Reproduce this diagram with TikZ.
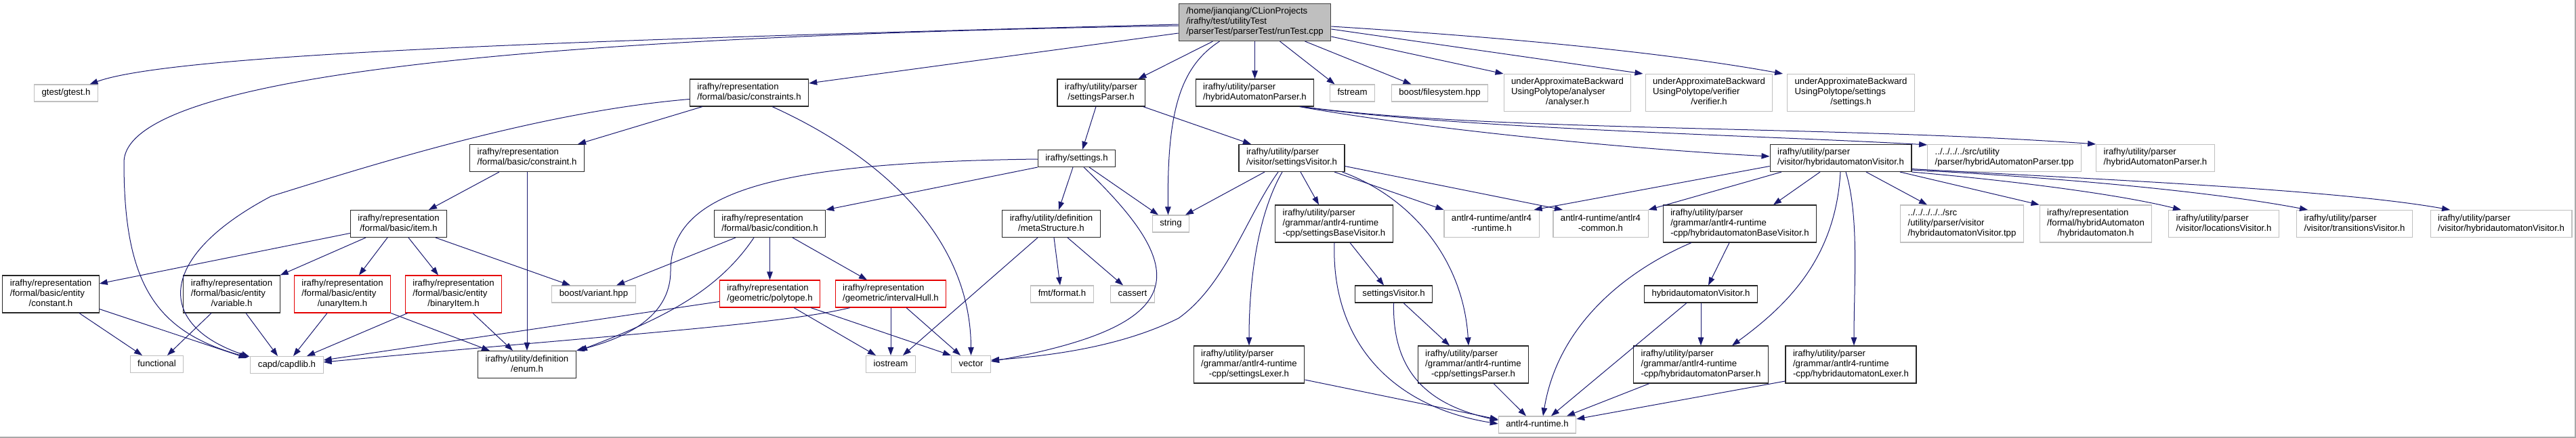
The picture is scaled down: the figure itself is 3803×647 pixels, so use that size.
\documentclass[tikz,border=0pt]{standalone}
\usepackage{fontspec}
\setmainfont{Liberation Sans}
\usetikzlibrary{arrows.meta}
\definecolor{edgeblue}{HTML}{191970}
\definecolor{sysgray}{HTML}{BFBFBF}
\definecolor{framegray}{HTML}{A8A8A8}
\newcommand{\oneline}[1]{\begin{tabular}{@{}c@{}}#1\end{tabular}}
\newcommand{\twoline}[2]{\begin{tabular}{@{}l@{}}#1\\\multicolumn{1}{@{}c@{}}{#2}\end{tabular}}
\newcommand{\threeline}[3]{\begin{tabular}{@{}l@{}}#1\\#2\\\multicolumn{1}{@{}c@{}}{#3}\end{tabular}}
\tikzset{
    file/.style={draw=black!85,line width=1.1pt,fill=white,inner xsep=11pt,inner ysep=5pt,
        font=\fontsize{13.2}{15}\selectfont},
    sysfile/.style={file,draw=sysgray},
    trunc/.style={file,draw=red!90!black},
    rootfile/.style={file,fill=sysgray,draw=black!75},
    dep/.style={draw=edgeblue,line width=1pt,-{Triangle[length=12pt,width=8.5pt]}},
}
\begin{document}
\begin{tikzpicture}[x=1pt,y=-1pt]
    \useasboundingbox (0,0) rectangle (3803,647);

    \node[rootfile] (runtest) at (1852.5,33) {\threeline{/home/jianqiang/CLionProjects}{/irafhy/test/utilityTest}{/parserTest/parserTest/runTest.cpp}};
    \node[sysfile] (gtest) at (97.5,137.5) {\oneline{gtest/gtest.h}};
    \node[file] (constraints) at (1106,137) {\twoline{irafhy/representation}{/formal/basic/constraints.h}};
    \node[file] (setparser) at (1625.5,137) {\twoline{irafhy/utility/parser}{/settingsParser.h}};
    \node[file] (haparser) at (1852.5,137) {\twoline{irafhy/utility/parser}{/hybridAutomatonParser.h}};
    \node[sysfile] (fstream) at (1996.5,137.5) {\oneline{fstream}};
    \node[sysfile] (boostfs) at (2125.5,137.5) {\oneline{boost/filesystem.hpp}};
    \node[sysfile] (analyser) at (2314,137) {\threeline{underApproximateBackward}{UsingPolytope/analyser}{/analyser.h}};
    \node[sysfile] (verifier) at (2523,137) {\threeline{underApproximateBackward}{UsingPolytope/verifier}{/verifier.h}};
    \node[sysfile] (uabsettings) at (2732.5,137) {\threeline{underApproximateBackward}{UsingPolytope/settings}{/settings.h}};

    \node[file] (constraint) at (778,233.5) {\twoline{irafhy/representation}{/formal/basic/constraint.h}};
    \node[file] (settings) at (1589.5,234) {\oneline{irafhy/settings.h}};
    \node[file] (setvisitor) at (1907,233.5) {\twoline{irafhy/utility/parser}{/visitor/settingsVisitor.h}};
    \node[file] (havisitor) at (2717.5,233.5) {\twoline{irafhy/utility/parser}{/visitor/hybridautomatonVisitor.h}};
    \node[sysfile] (hatpp) at (2959,233.5) {\twoline{../../../../src/utility}{/parser/hybridAutomatonParser.tpp}};
    \node[sysfile] (haparsergray) at (3182,233.5) {\twoline{irafhy/utility/parser}{/hybridAutomatonParser.h}};

    \node[file] (item) at (588.5,330.5) {\twoline{irafhy/representation}{/formal/basic/item.h}};
    \node[file] (condition) at (1136.5,330.5) {\twoline{irafhy/representation}{/formal/basic/condition.h}};
    \node[file] (meta) at (1552,330.5) {\twoline{irafhy/utility/definition}{/metaStructure.h}};
    \node[sysfile] (string) at (1728.5,330.5) {\oneline{string}};
    \node[file] (setbase) at (1969.5,330.5) {\threeline{irafhy/utility/parser}{/grammar/antlr4-runtime}{-cpp/settingsBaseVisitor.h}};
    \node[sysfile] (antlrrt) at (2202,330.5) {\twoline{antlr4-runtime/antlr4}{-runtime.h}};
    \node[sysfile] (antlrcommon) at (2363,330.5) {\twoline{antlr4-runtime/antlr4}{-common.h}};
    \node[file] (habase) at (2568.5,330.5) {\threeline{irafhy/utility/parser}{/grammar/antlr4-runtime}{-cpp/hybridautomatonBaseVisitor.h}};
    \node[sysfile] (havistpp) at (2896.5,330.5) {\threeline{../../../../../src}{/utility/parser/visitor}{/hybridautomatonVisitor.tpp}};
    \node[sysfile] (hauto) at (3094,330.5) {\threeline{irafhy/representation}{/formal/hybridAutomaton}{/hybridautomaton.h}};
    \node[sysfile] (locvis) at (3283,330.5) {\twoline{irafhy/utility/parser}{/visitor/locationsVisitor.h}};
    \node[sysfile] (transvis) at (3476,330.5) {\twoline{irafhy/utility/parser}{/visitor/transitionsVisitor.h}};
    \node[sysfile] (havisgray) at (3692.5,330.5) {\twoline{irafhy/utility/parser}{/visitor/hybridautomatonVisitor.h}};

    \node[file] (constant) at (75,434.5) {\threeline{irafhy/representation}{/formal/basic/entity}{/constant.h}};
    \node[file] (variable) at (342,434.5) {\threeline{irafhy/representation}{/formal/basic/entity}{/variable.h}};
    \node[trunc] (unary) at (505.5,434.5) {\threeline{irafhy/representation}{/formal/basic/entity}{/unaryItem.h}};
    \node[trunc] (binary) at (669.5,434.5) {\threeline{irafhy/representation}{/formal/basic/entity}{/binaryItem.h}};
    \node[sysfile] (variant) at (876.5,434.5) {\oneline{boost/variant.hpp}};
    \node[trunc] (polytope) at (1136.5,434) {\twoline{irafhy/representation}{/geometric/polytope.h}};
    \node[trunc] (hull) at (1315,434) {\twoline{irafhy/representation}{/geometric/intervalHull.h}};
    \node[sysfile] (fmt) at (1568,434.5) {\oneline{fmt/format.h}};
    \node[sysfile] (cassert) at (1672,434.5) {\oneline{cassert}};
    \node[file] (setvisplain) at (2057.5,434.5) {\oneline{settingsVisitor.h}};
    \node[file] (havisplain) at (2511,434.5) {\oneline{hybridautomatonVisitor.h}};

    \node[sysfile] (functional) at (231.5,538) {\oneline{functional}};
    \node[sysfile] (capd) at (423.5,539) {\oneline{capd/capdlib.h}};
    \node[file] (enum) at (778,538.5) {\twoline{irafhy/utility/definition}{/enum.h}};
    \node[sysfile] (iostream) at (1315,538) {\oneline{iostream}};
    \node[sysfile] (vector) at (1433.5,538) {\oneline{vector}};
    \node[file] (setlexer) at (1844,538.5) {\threeline{irafhy/utility/parser}{/grammar/antlr4-runtime}{-cpp/settingsLexer.h}};
    \node[file] (setparserg) at (2175,538.5) {\threeline{irafhy/utility/parser}{/grammar/antlr4-runtime}{-cpp/settingsParser.h}};
    \node[file] (haparserg) at (2511,538.5) {\threeline{irafhy/utility/parser}{/grammar/antlr4-runtime}{-cpp/hybridautomatonParser.h}};
    \node[file] (halexer) at (2732.5,538.5) {\threeline{irafhy/utility/parser}{/grammar/antlr4-runtime}{-cpp/hybridautomatonLexer.h}};
    \node[sysfile] (antlrh) at (2269.5,627.5) {\oneline{antlr4-runtime.h}};

    \draw[dep] ([yshift=-3pt]runtest.west) .. controls (900,58) and (260,78) .. ([xshift=35pt]gtest.north);
    \draw[dep] ([yshift=-5pt]runtest.west) .. controls (900,52) and (183,100) .. (183,240) .. controls (183,420) and (230,490) .. ([xshift=-3pt,yshift=-2pt]capd.north west);
    \draw[dep] ([yshift=-16pt]runtest.west) -- ([yshift=14pt]constraints.east);
    \draw[dep] ([xshift=-62pt]runtest.south) -- ([xshift=55pt]setparser.north);
    \draw[dep] ([xshift=-52pt]runtest.south) .. controls (1740,100) and (1723,170) .. ([xshift=-4pt]string.north);
    \draw[dep] (runtest) -- (haparser);
    \draw[dep] ([xshift=37pt]runtest.south) -- ([xshift=-26pt]fstream.north);
    \draw[dep] ([xshift=74pt]runtest.south) -- ([xshift=-42pt]boostfs.north);
    \draw[dep] ([yshift=-21pt]runtest.east) -- (analyser.north west);
    \draw[dep] ([yshift=-10pt]runtest.east) -- ([xshift=-3pt]verifier.north west);
    \draw[dep] ([yshift=-6pt]runtest.east) .. controls (2300,60) and (2500,85) .. ([xshift=-6pt]uabsettings.north west);

    \draw[dep] ([xshift=-69pt]constraints.south) -- ([xshift=75pt]constraint.north);
    \draw[dep] ([yshift=-9.5pt]constraints.west) .. controls (800,165) and (560,240) .. (400,290) .. controls (230,380) and (230,480) .. ([xshift=-1pt,yshift=-1pt]capd.north west);
    \draw[dep] ([xshift=34pt]constraints.south) .. controls (1300,230) and (1433,350) .. (vector.north);

    \draw[dep] ([xshift=-41pt]constraint.south) -- ([xshift=44.5pt]item.north);
    \draw[dep] (constraint) -- (enum);

    \draw[dep] ([yshift=-14pt]item.west) -- ([yshift=15.5pt]constant.east);
    \draw[dep] ([xshift=-48.5pt]item.south) -- (variable.north east);
    \draw[dep] ([xshift=-16.5pt]item.south) -- ([xshift=24.5pt]unary.north);
    \draw[dep] ([xshift=14.5pt]item.south) -- ([xshift=-22.5pt]binary.north);
    \draw[dep] ([xshift=54.5pt]item.south) -- ([xshift=-34.5pt]variant.north);

    \draw[dep] ([xshift=42pt]constant.south) -- ([xshift=-21.5pt]functional.north);
    \draw[dep] ([yshift=-22pt]constant.east) -- ([xshift=-5pt,yshift=-3pt]capd.north west);
    \draw[dep] ([xshift=-30pt]variable.south) -- ([xshift=15.5pt]functional.north);
    \draw[dep] ([xshift=21pt]variable.south) -- ([xshift=-13.5pt]capd.north);
    \draw[dep] ([xshift=-22.5pt]unary.south) -- ([xshift=9.5pt]capd.north);
    \draw[dep] (unary.south east) -- ([xshift=-55pt]enum.north);
    \draw[dep] ([xshift=4pt]binary.south west) -- ([xshift=29.5pt]capd.north);
    \draw[dep] ([xshift=28.5pt]binary.south) -- ([xshift=-21pt]enum.north);

    \draw[dep] (condition) -- (polytope);
    \draw[dep] ([xshift=33.5pt]condition.south) -- ([xshift=-35pt]hull.north);
    \draw[dep] ([xshift=-50.5pt]condition.south) -- ([xshift=33.5pt]variant.north);
    \draw[dep] ([xshift=-23.5pt]condition.south) .. controls (1060,430) and (980,470) .. ([xshift=4pt]enum.north east);

    \draw[dep] ([xshift=35.5pt]polytope.south) -- ([xshift=-22pt]iostream.north);
    \draw[dep] ([xshift=60.5pt]polytope.south) -- (vector.north west);
    \draw[dep] ([yshift=-11.5pt]polytope.west) -- ([yshift=7pt]capd.east);
    \draw[dep] (hull) -- (iostream);
    \draw[dep] ([xshift=23pt]hull.south) -- ([xshift=-15.5pt]vector.north);
    \draw[dep] ([xshift=-60pt]hull.south) .. controls (1150,480) and (900,495) .. ([yshift=4pt]capd.east);

    \draw[dep] ([xshift=-5.5pt]settings.south) -- ([xshift=11pt]meta.north);
    \draw[dep] ([xshift=18.5pt]settings.south) -- ([xshift=-18.5pt]string.north);
    \draw[dep] ([xshift=10.5pt]settings.south) .. controls (1760,400) and (1760,480) .. ([yshift=4pt]vector.east);
    \draw[dep] (settings.south west) -- (condition.north east);
    \draw[dep] ([yshift=-1pt]settings.west) .. controls (1150,240) and (990,280) .. (990,400) .. controls (990,470) and (920,500) .. (enum.north east);

    \draw[dep] ([xshift=-7.5pt]setparser.south) -- ([xshift=8.5pt]settings.north);
    \draw[dep] ([xshift=-3pt]setparser.south east) -- ([xshift=-60pt]setvisitor.north);

    \draw[dep] ([xshift=4pt]meta.south) -- ([xshift=-3pt]fmt.north);
    \draw[dep] ([xshift=24pt]meta.south) -- ([xshift=-14pt]cassert.north);
    \draw[dep] ([xshift=-20pt]meta.south) -- ([xshift=18pt]iostream.north);

    \draw[dep] ([xshift=-40pt]setvisitor.south) -- ([xshift=21.5pt]string.north);
    \draw[dep] ([xshift=-20pt]setvisitor.south) .. controls (1840,320) and (1810,420) .. (1740,470) .. controls (1660,510) and (1560,525) .. ([yshift=6pt]vector.east);
    \draw[dep] ([xshift=-14pt]setvisitor.south) .. controls (1855,320) and (1844,420) .. (setlexer.north);
    \draw[dep] ([xshift=13pt]setvisitor.south) -- ([xshift=-22.5pt]setbase.north);
    \draw[dep] ([xshift=63pt]setvisitor.south) -- (antlrrt.north west);
    \draw[dep] ([yshift=-12pt]setvisitor.east) -- ([xshift=-56pt]antlrcommon.north);
    \draw[dep] ([xshift=-4pt]setvisitor.south east) .. controls (2080,290) and (2160,380) .. ([xshift=-7pt]setparserg.north);

    \draw[dep] ([xshift=23.5pt]setbase.south) -- ([xshift=-14.5pt]setvisplain.north);
    \draw[dep] ([xshift=0.5pt]setbase.south) .. controls (1965,500) and (2050,600) .. ([yshift=1.5pt]antlrh.west);
    \draw[dep] (setvisplain.south) .. controls (2055,560) and (2120,600) .. ([yshift=6.5pt]antlrh.west);
    \draw[dep] ([xshift=14.5pt]setvisplain.south) -- ([xshift=-35pt]setparserg.north);
    \draw[dep] ([yshift=-22.5pt]setlexer.east) -- ([yshift=8pt]antlrh.west);
    \draw[dep] ([xshift=30pt]setparserg.south) -- ([xshift=-16.5pt]antlrh.north);

    \draw[dep] ([xshift=-22pt]haparser.south east) .. controls (2100,190) and (2400,220) .. ([yshift=2.5pt]havisitor.west);
    \draw[dep] ([xshift=-20pt]haparser.south east) .. controls (2150,190) and (2600,200) .. ([yshift=-1pt]hatpp.north west);
    \draw[dep] ([xshift=-18pt]haparser.south east) .. controls (2200,195) and (2700,185) .. (haparsergray.north west);

    \draw[dep] ([yshift=-12pt]havisitor.west) -- ([xshift=-8pt]antlrrt.north east);
    \draw[dep] ([xshift=-87.5pt]havisitor.south) -- (antlrcommon.north east);
    \draw[dep] ([xshift=-30.5pt]havisitor.south) -- ([xshift=49.5pt]habase.north);
    \draw[dep] ([xshift=-0.5pt]havisitor.south) .. controls (2710,380) and (2640,450) .. ([xshift=46pt]haparserg.north);
    \draw[dep] ([xshift=7.5pt]havisitor.south) .. controls (2745,320) and (2737,420) .. ([xshift=4.5pt]halexer.north);
    \draw[dep] ([xshift=37.5pt]havisitor.south) -- ([xshift=-51.5pt]havistpp.north);
    \draw[dep] ([xshift=87.5pt]havisitor.south) -- (hauto.north west);
    \draw[dep] (havisitor.south east) .. controls (2950,265) and (3120,285) .. ([xshift=-63pt]locvis.north);
    \draw[dep] ([yshift=3pt]havisitor.south east) .. controls (3000,260) and (3250,280) .. ([xshift=-69pt]transvis.north);
    \draw[dep] ([yshift=4.5pt]havisitor.south east) .. controls (3100,265) and (3450,280) .. ([xshift=-75.5pt]havisgray.north);

    \draw[dep] ([xshift=-71.5pt]habase.south) .. controls (2400,400) and (2300,480) .. ([xshift=8.5pt]antlrh.north);
    \draw[dep] ([xshift=-15.5pt]habase.south) -- ([xshift=11pt]havisplain.north);
    \draw[dep] ([xshift=-21pt]havisplain.south) -- ([xshift=20.5pt]antlrh.north);
    \draw[dep] (havisplain) -- (haparserg);
    \draw[dep] ([xshift=-76pt]haparserg.south) -- ([xshift=43.5pt]antlrh.north);
    \draw[dep] ([yshift=-24.5pt]halexer.west) -- ([yshift=8.5pt]antlrh.east);

    \draw[framegray,line width=1.5pt] (3802,0) -- (3802,646) -- (0,646);
\end{tikzpicture}
\end{document}
